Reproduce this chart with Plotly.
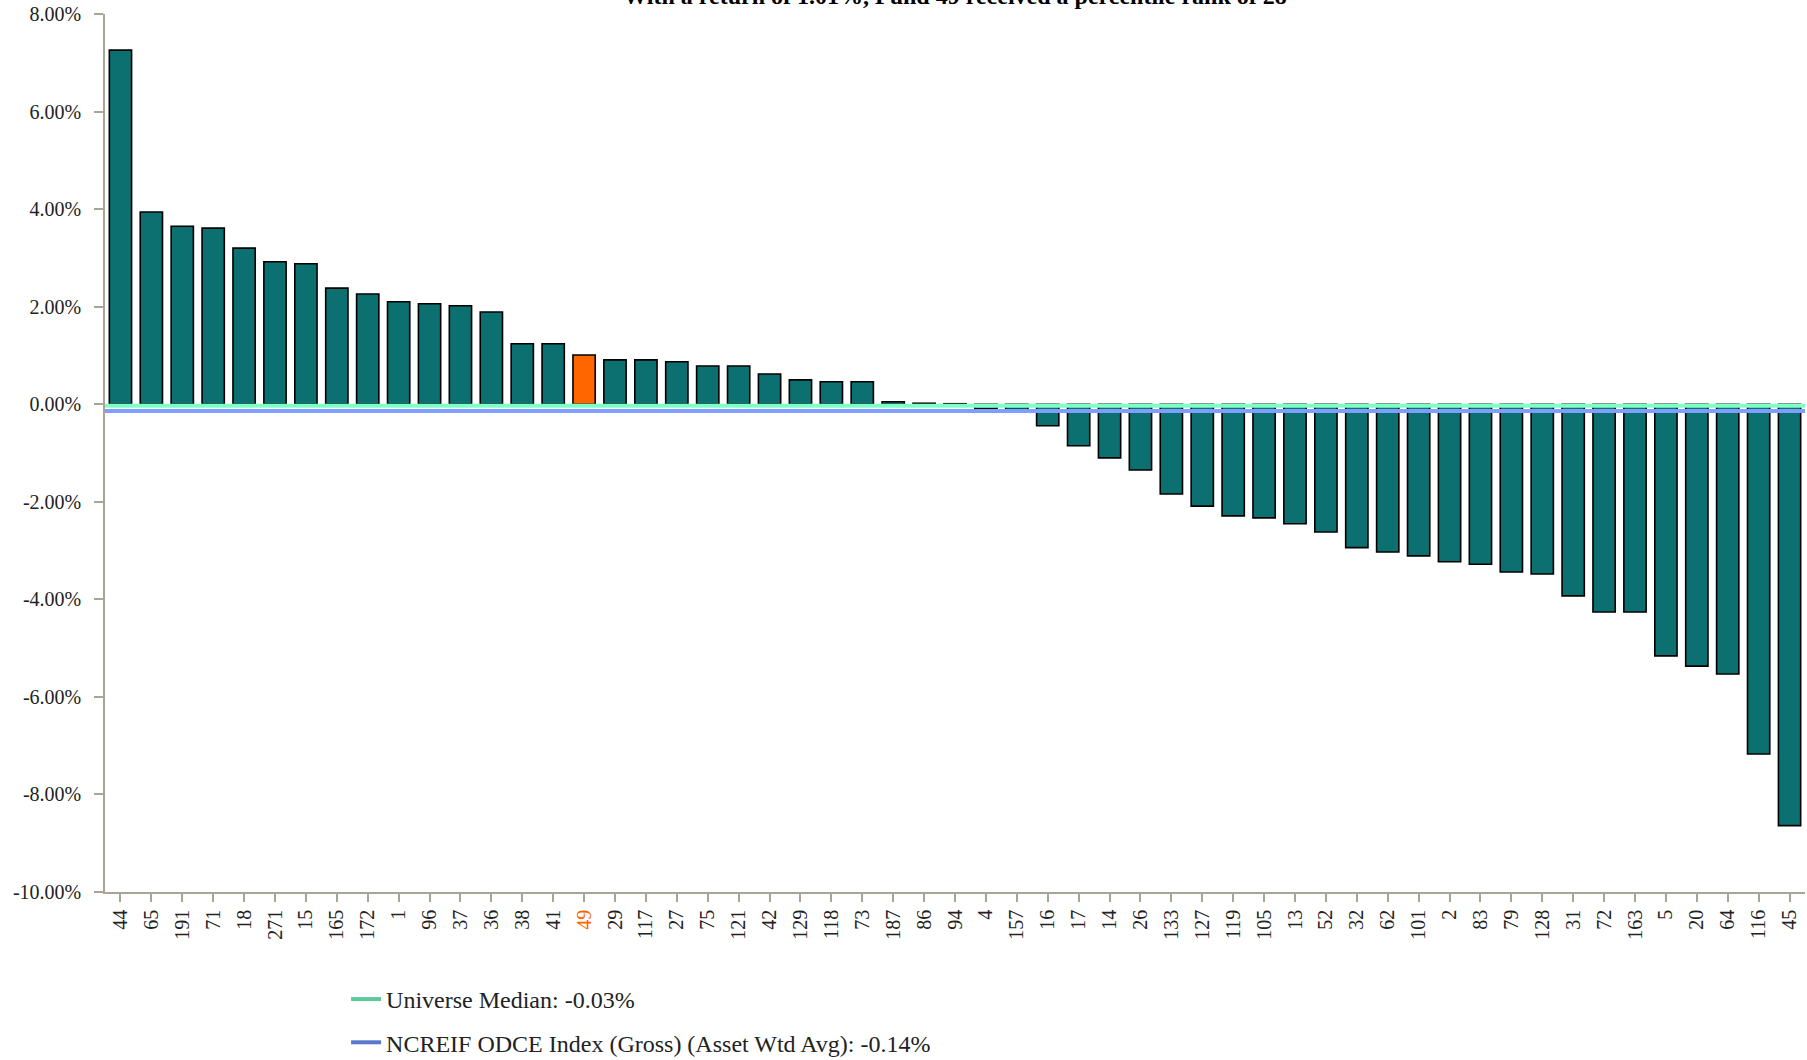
import plotly.graph_objects as go

# ---- data ----
funds = ["44", "65", "191", "71", "18", "271", "15", "165", "172", "1", "96", "37", "36", "38", "41",
         "49", "29", "117", "27", "75", "121", "42", "129", "118", "73", "187", "86", "94", "4", "157",
         "16", "17", "14", "26", "133", "127", "119", "105", "13", "52", "32", "62", "101", "2", "83",
         "79", "128", "31", "72", "163", "5", "20", "64", "116", "45"]
returns = [7.26, 3.94, 3.65, 3.61, 3.20, 2.92, 2.88, 2.38, 2.26, 2.10, 2.06, 2.02, 1.89, 1.24, 1.24,
           1.01, 0.91, 0.91, 0.87, 0.785, 0.785, 0.62, 0.50, 0.46, 0.46, 0.05, 0.02, 0.01, -0.09, -0.11,
           -0.44, -0.85, -1.10, -1.35, -1.84, -2.09, -2.29, -2.33, -2.45, -2.62, -2.94, -3.03, -3.11, -3.23, -3.28,
           -3.44, -3.48, -3.93, -4.26, -4.26, -5.16, -5.37, -5.53, -7.17, -8.64]
highlight_fund = "49"
universe_median = -0.03
odce_index = -0.14
median_label = "Universe Median: -0.03%"
odce_label = "NCREIF ODCE Index (Gross) (Asset Wtd Avg): -0.14%"
title_text = "With a return of 1.01%, Fund 49 received a percentile rank of 28"
y_ticks = [-10, -8, -6, -4, -2, 0, 2, 4, 6, 8]

# ---- styles ----
TEAL = "#0D7070"
ORANGE = "#FF6600"
AXIS = "#A9A596"
FONT = "Liberation Serif, Times New Roman, serif"

bar_colors = [ORANGE if f == highlight_fund else TEAL for f in funds]
tick_text = [f"<span style='color:{ORANGE}'>{f}</span>" if f == highlight_fund else f for f in funds]

fig = go.Figure()
fig.add_trace(go.Bar(
    x=funds, y=returns,
    marker=dict(color=bar_colors, line=dict(color="#000000", width=1.6)),
    showlegend=False, hoverinfo="x+y",
))

# reference lines across the full plot width (overlay axis 0..1)
fig.add_trace(go.Scatter(x=[0, 1], y=[universe_median, universe_median], xaxis="x2", mode="lines",
                         line=dict(color="#80FFC6", width=4), showlegend=False, hoverinfo="skip"))
fig.add_trace(go.Scatter(x=[0, 1], y=[odce_index, odce_index], xaxis="x2", mode="lines",
                         line=dict(color="#7F9FFF", width=4), showlegend=False, hoverinfo="skip"))

# legend entries
fig.add_trace(go.Scatter(x=[None], y=[None], mode="lines", name=median_label, legendgroup="a",
                         line=dict(color="#5CC99A", width=4)))
fig.add_trace(go.Scatter(x=[None], y=[None], mode="lines", name=odce_label, legendgroup="b",
                         line=dict(color="#5A78CC", width=4)))

fig.update_layout(
    width=1807, height=1060,
    margin=dict(l=105, r=2, t=14, b=168, autoexpand=False),
    paper_bgcolor="white", plot_bgcolor="white",
    font=dict(family=FONT, size=20, color="#222222"),
    bargap=0.28,
    title=dict(text=f"<b>{title_text}</b>", x=0.5, xref="paper", xanchor="center",
               y=1 - 4 / 1060, yref="container", yanchor="bottom",
               font=dict(family=FONT, size=24, color="#000000")),
    xaxis=dict(type="category", tickmode="array", tickvals=funds, ticktext=tick_text,
               tickangle=-90, showline=True, linecolor=AXIS, linewidth=1.5,
               ticks="outside", ticklen=8, tickcolor=AXIS, tickwidth=1.5,
               showgrid=False, zeroline=False, automargin=False,
               tickfont=dict(family=FONT, size=20, color="#222222")),
    xaxis2=dict(overlaying="x", range=[0, 1], visible=False, fixedrange=True),
    yaxis=dict(range=[-10, 8], tickmode="array", tickvals=y_ticks,
               ticktext=[f"{v:.2f}%" for v in y_ticks],
               showline=True, linecolor=AXIS, linewidth=1.5,
               ticks="outside", ticklen=9, tickcolor=AXIS, tickwidth=1.5,
               ticklabelstandoff=9, ticklabeloverflow="allow",
               showgrid=False, zeroline=False, automargin=False,
               tickfont=dict(family=FONT, size=20, color="#222222")),
    legend=dict(x=0.1418, xanchor="left", y=-0.0968, yanchor="top", orientation="v",
                traceorder="grouped", tracegroupgap=9, bgcolor="rgba(0,0,0,0)",
                font=dict(family=FONT, size=24, color="#222222")),
)

fig.write_html("out.html", config={"displayModeBar": False},
               post_script="document.body.style.margin='0px';")
